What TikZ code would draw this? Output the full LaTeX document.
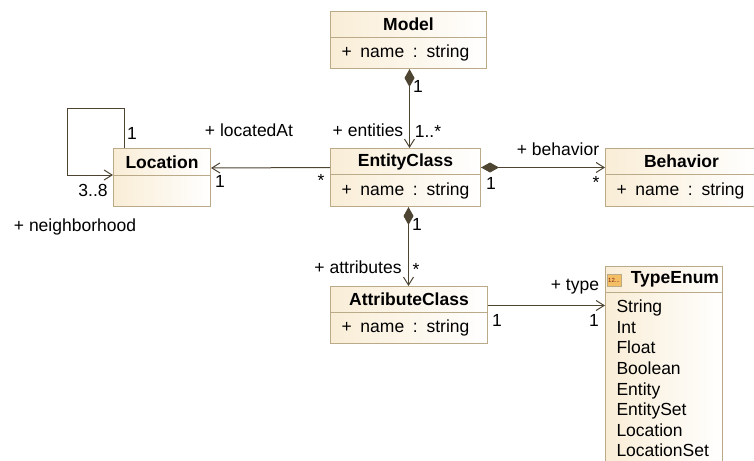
\documentclass[tikz,border=0pt]{standalone}
\usepackage{fontspec}
\setmainfont{Liberation Sans}
\usetikzlibrary{arrows.meta,shadows}
\definecolor{boxcream}{RGB}{249,237,214}
\definecolor{boxline}{RGB}{186,170,136}
\definecolor{connline}{RGB}{78,68,50}
\definecolor{iconfill}{RGB}{244,190,100}
\definecolor{iconink}{RGB}{130,30,20}
\newcommand{\nameattr}{+\hspace{.5em}name\hspace{.5em}:\hspace{.5em}string}

\begin{document}
\begin{tikzpicture}[x=1pt, y=-1pt,
every node/.style={font=\fontsize{17.5}{20.6}\selectfont, inner sep=0pt},
boxpart/.style={draw=boxline, line width=1pt, left color=boxcream, right color=white, shade, drop shadow={shadow xshift=.8pt, shadow yshift=-.8pt, opacity=.55, fill=boxline}},
classhead/.style={boxpart, font=\fontsize{17.5}{20.6}\selectfont\bfseries, anchor=north west},
classbody/.style={boxpart, anchor=north west, align=left, inner xsep=11pt},
assoc/.style={draw=connline, line width=1pt, -{Straight Barb[length=8pt, width=10pt]}},
compo/.style={draw=connline, line width=1pt, {Diamond[length=18pt, width=10pt, fill=connline]}-{Straight Barb[length=8pt, width=10pt]}},
]
\useasboundingbox (0,0) rectangle (754,460);

\node[classbody, text width=134pt, minimum height=31pt] (modelbody) at (330,37) {\nameattr};
\node[classhead, minimum width=156pt, minimum height=26pt] (modelhead) at (330,11) {Model};

\node[classbody, text width=128pt, minimum height=32pt] (entitybody) at (330,174) {\nameattr};
\node[classhead, minimum width=150pt, minimum height=26pt] (entityhead) at (330,148) {EntityClass};

\node[classbody, text width=75pt, minimum height=31pt] (locationbody) at (113,175) {};
\node[classhead, minimum width=97pt, minimum height=27pt] (locationhead) at (113,148) {Location};

\node[classbody, text width=130pt, minimum height=32pt] (behaviorbody) at (605,174) {\nameattr};
\node[classhead, minimum width=152pt, minimum height=26pt] (behaviorhead) at (605,148) {Behavior};

\node[classbody, text width=135pt, minimum height=31pt] (attributebody) at (330,312) {\nameattr};
\node[classhead, minimum width=157pt, minimum height=26pt] (attributehead) at (330,286) {AttributeClass};

\node[classbody, text width=95pt, minimum height=172pt] (enumbody) at (605,292) {String\\Int\\Float\\Boolean\\Entity\\EntitySet\\Location\\LocationSet};
\node[classhead, minimum width=117pt, minimum height=26pt, align=right, text width=110pt, inner xsep=3.5pt] (enumhead) at (605,266) {TypeEnum};
\node[draw=boxline, fill=iconfill, minimum width=14pt, minimum height=12pt, font=\fontsize{6}{6}\selectfont, text=iconink] (enumicon) at (614,280) {12...};

% connectors
\draw[compo] ([xshift=1pt]modelbody.south) -- ([xshift=4pt]entityhead.north);
\draw[compo] ([xshift=3pt]entitybody.south) -- ([xshift=-.5pt]attributehead.north);
\draw[compo] ([yshift=-6pt]entityhead.east) -- ([yshift=-6pt]behaviorhead.west);
\draw[assoc] ([yshift=-6pt]entityhead.west) -- ([yshift=-6pt]locationhead.east);
\draw[assoc] ([yshift=-6pt]attributehead.east) -- ([yshift=-6pt]attributehead.east -| enumbody.west);
\draw[assoc] ([xshift=-38pt]locationhead.north) |- (67,108) coordinate (loopcorner) |- (locationbody.north west);

% end labels
\node (modelone) at (418,86) {1};
\node (entitiesmany) at (428,131) {1..*};
\node (entitieslabel) at (368,130) {+ entities};
\node (locatedlabel) at (249,130) {+ locatedAt};
\node (locationmany) at (321,180) {*};
\node (locationone) at (220,181) {1};
\node (selfone) at (132,133) {1};
\node (selfmany) at (93,190) {3..8};
\node (neighborlabel) at (75,227) {+ neighborhood};
\node (behaviorlabel) at (558,149) {+ behavior};
\node (behaviorone) at (491,183) {1};
\node (behaviormany) at (596,182) {*};
\node (attrone) at (417,224) {1};
\node (attrmany) at (416,269) {*};
\node (attributeslabel) at (358,267) {+ attributes};
\node (typelabel) at (575,287) {+ type};
\node (typeoneleft) at (497,320) {1};
\node (typeoneright) at (594,320) {1};
\end{tikzpicture}
\end{document}
